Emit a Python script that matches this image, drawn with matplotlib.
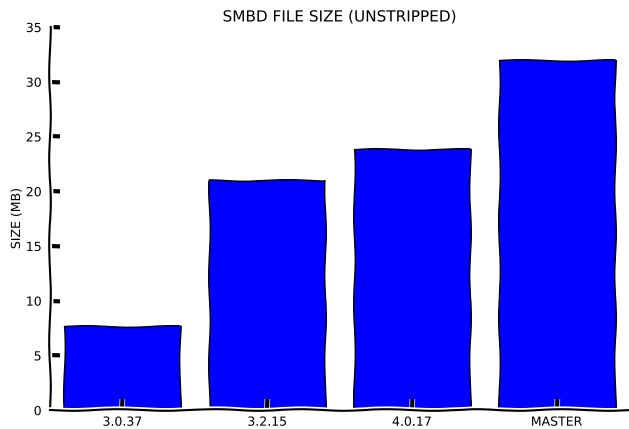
import matplotlib
matplotlib.use("Agg")
import matplotlib.pyplot as plt

# ---- DATA ----------------------------------------------------------------
versions = ["3.0.37", "3.2.15", "4.0.17", "MASTER"]
size_mb = [7.7, 21.0, 23.9, 32.0]
yticks = [0, 5, 10, 15, 20, 25, 30, 35]

# ---- PLOT ----------------------------------------------------------------
with plt.xkcd(scale=0.8):
    plt.rcParams["font.family"] = ["DejaVu Sans"]
    fig = plt.figure(figsize=(6.29, 4.29), dpi=100)
    ax = fig.add_axes([0.0795, 0.044, 0.9205, 0.893])

    x = range(len(versions))
    ax.bar(x, size_mb, width=0.8, color="#0000ff", edgecolor="black", linewidth=1.0)

    ax.set_xlim(-0.5, len(versions) - 0.5)
    ax.set_ylim(0, 35)
    ax.set_xticks(list(x))
    ax.set_xticklabels(versions, fontsize=9)
    ax.set_yticks(yticks)
    ax.set_yticklabels([str(v) for v in yticks], fontsize=9)
    ax.tick_params(axis="y", direction="in", length=7, width=3, pad=6)
    ax.tick_params(axis="x", direction="in", length=8, width=3, pad=4)

    ax.spines["top"].set_visible(False)
    ax.spines["right"].set_visible(False)
    ax.spines["left"].set_linewidth(1.5)
    ax.spines["bottom"].set_linewidth(1.5)
    ax.set_ylabel("SIZE (MB)", fontsize=9, labelpad=2)
    ax.set_title("SMBD FILE SIZE (UNSTRIPPED)", fontsize=11, pad=4)

    fig.savefig("out.png", dpi=100)
